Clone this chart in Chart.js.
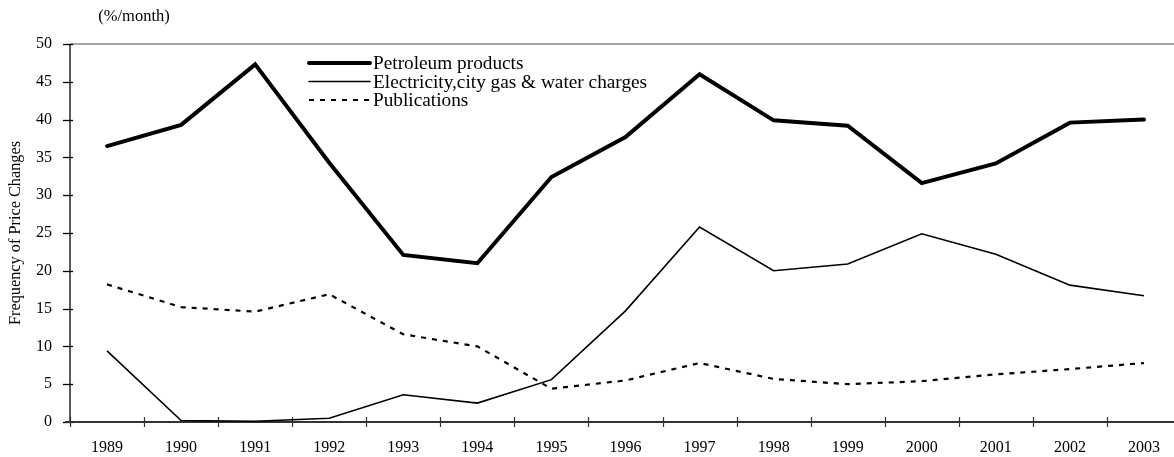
<!DOCTYPE html>
<html>
<head>
<meta charset="utf-8">
<script src="https://cdn.jsdelivr.net/npm/chart.js@4/dist/chart.umd.min.js"></script>
<style>
  html, body { margin: 0; padding: 0; background: #fff; overflow: hidden; }
  #wrap { position: absolute; left: 0; top: 0; width: 1185px; height: 457px; }
</style>
</head>
<body>
<div id="wrap"><canvas id="priceChart" width="1185" height="457"></canvas></div>
<script>
// Anni sull'asse x
let years = ["1989", "1990", "1991", "1992", "1993", "1994", "1995", "1996", "1997", "1998", "1999", "2000", "2001", "2002", "2003"];

// Serie (%/month)
let petroleumValues = [36.5, 39.3, 47.3, 34.3, 22.1, 21.0, 32.4, 37.7, 46.0, 39.9, 39.2, 31.6, 34.2, 39.6, 40.0];
let electricityValues = [9.4, 0.2, 0.1, 0.5, 3.6, 2.5, 5.6, 14.7, 25.8, 20.0, 20.9, 24.9, 22.2, 18.1, 16.7];
let publicationValues = [18.2, 15.2, 14.6, 16.9, 11.6, 10.0, 4.4, 5.5, 7.8, 5.7, 5.0, 5.4, 6.3, 7.0, 7.8];

// Tick dell'asse y
let yTicks = [0, 5, 10, 15, 20, 25, 30, 35, 40, 45, 50];

let serif = "'Liberation Serif', 'Times New Roman', serif";

// Disegna assi, tacche, bordo superiore, legenda ed unità
let decorPlugin = {
  id: "decor",
  beforeDatasetsDraw(chart) {
    let ctx = chart.ctx;
    let area = chart.chartArea;
    let x = chart.scales.x;
    let y = chart.scales.y;
    ctx.save();

    // bordo superiore grigio
    ctx.strokeStyle = "#888888";
    ctx.lineWidth = 1.5;
    ctx.beginPath();
    ctx.moveTo(area.left, area.top);
    ctx.lineTo(area.right + 10, area.top);
    ctx.stroke();

    // asse y
    ctx.strokeStyle = "#000";
    ctx.lineWidth = 1.3;
    ctx.beginPath();
    ctx.moveTo(area.left, area.top);
    ctx.lineTo(area.left, area.bottom);
    ctx.stroke();

    // tacche asse y
    for (let i = 0; i < yTicks.length; i++) {
      let py = Math.round(y.getPixelForValue(yTicks[i])) + 0.5;
      ctx.beginPath();
      ctx.moveTo(area.left - 7, py);
      ctx.lineTo(area.left + 3, py);
      ctx.stroke();
    }

    // asse x
    ctx.strokeStyle = "#333";
    ctx.lineWidth = 1.8;
    ctx.beginPath();
    ctx.moveTo(area.left - 5, area.bottom);
    ctx.lineTo(area.right + 10, area.bottom);
    ctx.stroke();

    // tacche asse x ai bordi delle categorie
    ctx.lineWidth = 1.2;
    for (let i = 0; i < years.length; i++) {
      let px;
      if (i === 0) {
        px = area.left;
      } else {
        px = (x.getPixelForTick(i - 1) + x.getPixelForTick(i)) / 2;
      }
      px = Math.round(px) + 0.5;
      ctx.beginPath();
      ctx.moveTo(px, area.bottom - 5);
      ctx.lineTo(px, area.bottom + 5);
      ctx.stroke();
    }

    // unità di misura
    ctx.fillStyle = "#000";
    ctx.font = "16.5px " + serif;
    ctx.textAlign = "center";
    ctx.textBaseline = "middle";
    ctx.fillText("(%/month)", 134, 17);

    ctx.restore();
  },
  afterDraw(chart) {
    let ctx = chart.ctx;
    let sets = chart.data.datasets;
    let rowY = [63, 81.5, 100];
    ctx.save();
    for (let i = 0; i < sets.length; i++) {
      let ds = sets[i];
      ctx.strokeStyle = ds.borderColor;
      ctx.lineWidth = ds.borderWidth;
      ctx.lineCap = ds.borderDash ? "butt" : "round";
      ctx.setLineDash(ds.borderDash || []);
      ctx.beginPath();
      ctx.moveTo(309, rowY[i]);
      ctx.lineTo(370, rowY[i]);
      ctx.stroke();
      ctx.setLineDash([]);
      ctx.fillStyle = "#000";
      ctx.font = "19.3px " + serif;
      ctx.textAlign = "left";
      ctx.textBaseline = "middle";
      ctx.fillText(ds.label, 373, rowY[i] + 1);
    }
    ctx.restore();
  }
};

new Chart("priceChart", {
  type: "line",
  data: {
    labels: years,
    datasets: [{
      label: "Petroleum products",
      data: petroleumValues,
      borderColor: "#000",
      borderWidth: 4,
      borderCapStyle: "round",
      pointRadius: 0,
      tension: 0
    }, {
      label: "Electricity,city gas & water charges",
      data: electricityValues,
      borderColor: "#000",
      borderWidth: 1.6,
      pointRadius: 0,
      tension: 0
    }, {
      label: "Publications",
      data: publicationValues,
      borderColor: "#000",
      borderWidth: 2.2,
      borderDash: [5, 6],
      pointRadius: 0,
      tension: 0
    }]
  },
  options: {
    responsive: false,
    animation: false,
    events: [],
    layout: { padding: { top: 44, right: 4, bottom: 0, left: 0 } },
    plugins: {
      legend: { display: false },
      title: { display: false },
      tooltip: { enabled: false }
    },
    scales: {
      x: {
        offset: true,
        grid: { display: false, drawTicks: false },
        border: { display: false },
        ticks: {
          color: "#000",
          font: { family: serif, size: 16 },
          padding: 16,
          maxRotation: 0,
          autoSkip: false
        },
        afterFit(scale) { scale.height = 35; }
      },
      y: {
        min: 0,
        max: 50,
        grid: { display: false, drawTicks: false },
        border: { display: false },
        ticks: {
          stepSize: 5,
          color: "#000",
          font: { family: serif, size: 16 },
          padding: 18
        },
        title: {
          display: true,
          text: "Frequency of Price Changes",
          color: "#000",
          font: { family: serif, size: 16.3 },
          padding: { top: 6, bottom: 0 }
        },
        afterFit(scale) { scale.width = 70; }
      }
    }
  },
  plugins: [decorPlugin]
});
</script>
</body>
</html>
